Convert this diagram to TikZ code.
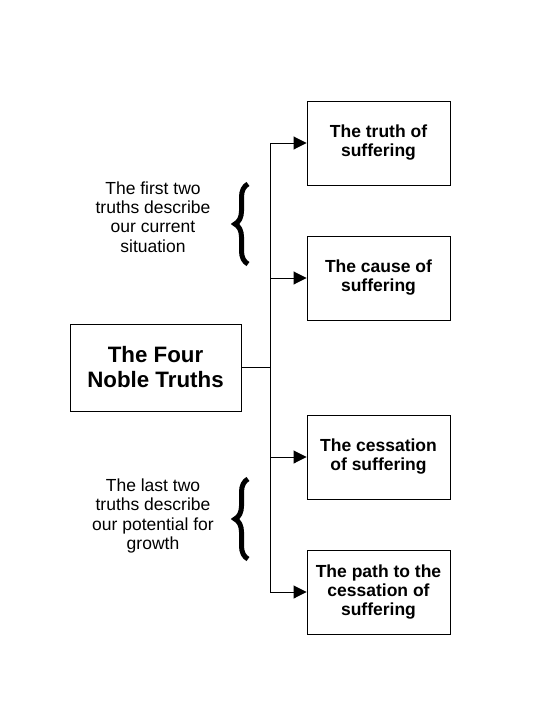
\documentclass[tikz,border=0pt]{standalone}
\usepackage{fontspec}
\setmainfont{Liberation Sans}
\usetikzlibrary{arrows.meta, positioning, decorations.pathreplacing}

\tikzset{
  truthbox/.style={draw, line width=0.9pt, minimum width=143pt, minimum height=84pt,
    align=center, font=\fontsize{17.5}{19}\selectfont\bfseries, inner sep=2pt},
  note/.style={align=center, font=\fontsize{17.5}{19.3}\selectfont},
  link/.style={line width=0.9pt},
  arr/.style={link, -{Triangle[length=13pt, width=13pt]}},
  bigbrace/.style={decorate, decoration={brace, amplitude=13pt}, line width=5pt}
}

\begin{document}
\begin{tikzpicture}[x=1pt, y=-1pt]
    \useasboundingbox (0,0) rectangle (553,720);
    % Main box
    \node[draw, line width=0.9pt, minimum width=171pt, minimum height=87pt, align=center,
      font=\fontsize{22.3}{25}\selectfont\bfseries] (main) at (155.5,367.5) {The Four\\Noble Truths};
    % The four truths
    \node[truthbox] (suffer) at (378.5,143) {The truth of\\suffering};
    \node[truthbox] (cause) at (378.5,278) {The cause of\\suffering};
    \node[truthbox] (cease) at (378.5,457) {The cessation\\of suffering};
    \node[truthbox] (path) at (378.5,592) {The path to the\\cessation of\\suffering};
    % Trunk
    \coordinate (top) at (270,143);
    \coordinate (bot) at (270,592);
    \coordinate (hub) at (270,367.5);
    \draw[link] (top) -- (bot);
    \draw[link] (main.east) -- (hub);
    \draw[arr] (top) -- (suffer.west);
    \draw[arr] (cause.west -| top) -- (cause.west);
    \draw[arr] (cease.west -| top) -- (cease.west);
    \draw[arr] (bot) -- (path.west);
    % Notes with braces
    \node[note] (first) at (153,217) {The first two\\truths describe\\our current\\situation};
    \node[note] (last) at (153,516) {The last two\\truths describe\\our potential for\\growth};
    \draw[bigbrace] (248,264) -- (248,184);
    \draw[bigbrace] (248,559) -- (248,479);
\end{tikzpicture}
\end{document}
